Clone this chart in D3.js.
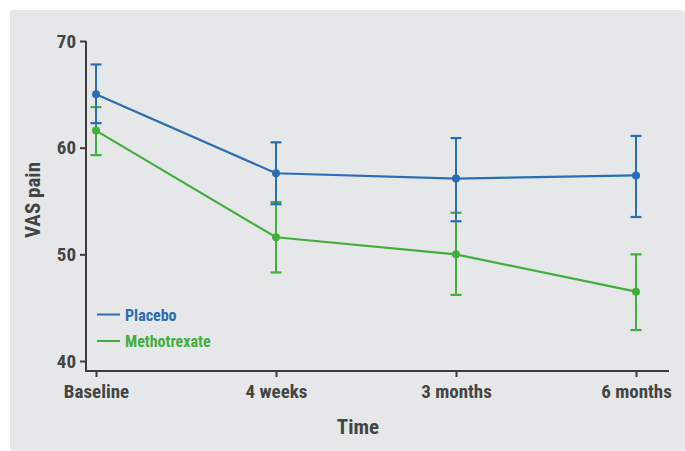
<!DOCTYPE html>
<html><head><meta charset="utf-8">
<script src="https://cdn.jsdelivr.net/npm/d3@7"></script>
<style>
body{margin:0;background:#fff;}
svg{display:block;}
text{font-family:"Roboto Condensed","Liberation Sans Narrow","DejaVu Sans Condensed",Roboto,sans-serif;font-weight:bold;}
</style></head>
<body>
<svg id="c" width="685" height="451"></svg>
<script>
const categories = ["Baseline", "4 weeks", "3 months", "6 months"];
const placeboMean = [65.0, 57.6, 57.1, 57.4];
const placeboLow  = [62.3, 54.7, 53.1, 53.5];
const placeboHigh = [67.8, 60.5, 60.9, 61.1];
const mtxMean = [61.6, 51.6, 50.0, 46.5];
const mtxLow  = [59.3, 48.3, 46.2, 42.9];
const mtxHigh = [63.8, 54.9, 53.9, 50.0];
const yTicks = [40, 50, 60, 70];
const seriesNames = ["Placebo", "Methotrexate"];
const seriesColors = ["#2a6db3", "#44ad3f"];

const svg = d3.select("#c");
svg.append("rect").attr("x",10).attr("y",10).attr("width",675).attr("height",441).attr("rx",4).attr("fill","#e6e7e8");

const x = d3.scalePoint().domain(categories).range([96, 636]);
const y = d3.scaleLinear().domain([40, 70]).range([361, 41]);
const axisColor = "#3b3b3b", textColor = "#444";

// y axis
const ya = svg.append("g").attr("transform","translate(86,0)")
  .call(d3.axisLeft(y).tickValues(yTicks).tickSize(6).tickPadding(4).tickSizeOuter(0));
ya.select(".domain").remove();
ya.append("line").attr("x1",0).attr("x2",0).attr("y1",y(70)).attr("y2",371).attr("stroke",axisColor).attr("stroke-width",2);
ya.selectAll(".tick line").attr("stroke",axisColor).attr("stroke-width",2);
ya.selectAll(".tick text").attr("fill",textColor).attr("font-size",19);

// x axis
const xa = svg.append("g").attr("transform","translate(0,371)")
  .call(d3.axisBottom(x).tickSize(6).tickPadding(8).tickSizeOuter(0));
xa.select(".domain").remove();
xa.append("line").attr("x1",85).attr("x2",669).attr("y1",0).attr("y2",0).attr("stroke",axisColor).attr("stroke-width",2);
xa.selectAll(".tick line").attr("stroke",axisColor).attr("stroke-width",2);
xa.selectAll(".tick text").attr("fill",textColor).attr("font-size",19);

// titles
svg.append("text").attr("x",358).attr("y",434).attr("text-anchor","middle").attr("fill",textColor).attr("font-size",21).text("Time");
svg.append("text").attr("transform","translate(40,200) rotate(-90)").attr("text-anchor","middle").attr("fill",textColor).attr("font-size",21).text("VAS pain");

const series = [
  {name:seriesNames[0], color:seriesColors[0], mean:placeboMean, low:placeboLow, high:placeboHigh},
  {name:seriesNames[1], color:seriesColors[1], mean:mtxMean, low:mtxLow, high:mtxHigh}
];
const line = d3.line().x((d,i)=>x(categories[i])).y(d=>y(d));
[series[1], series[0]].forEach(s=>{
  const g = svg.append("g");
  g.append("path").attr("d", line(s.mean)).attr("fill","none").attr("stroke",s.color).attr("stroke-width",2.2);
  categories.forEach((c,i)=>{
    const cx = x(c);
    g.append("line").attr("x1",cx).attr("x2",cx).attr("y1",y(s.low[i])).attr("y2",y(s.high[i])).attr("stroke",s.color).attr("stroke-width",2);
    [s.low[i], s.high[i]].forEach(v=>{
      g.append("line").attr("x1",cx-5.5).attr("x2",cx+5.5).attr("y1",y(v)).attr("y2",y(v)).attr("stroke",s.color).attr("stroke-width",2.2);
    });
    g.append("circle").attr("cx",cx).attr("cy",y(s.mean[i])).attr("r",4).attr("fill",s.color);
  });
});

// legend
series.forEach((s,i)=>{
  const ly = 314.5 + i*26.5;
  svg.append("line").attr("x1",97).attr("x2",120).attr("y1",ly).attr("y2",ly).attr("stroke",s.color).attr("stroke-width",2);
  svg.append("text").attr("x",125).attr("y",ly+6).attr("fill",s.color).attr("font-size",16).text(s.name);
});
</script>
</body></html>
